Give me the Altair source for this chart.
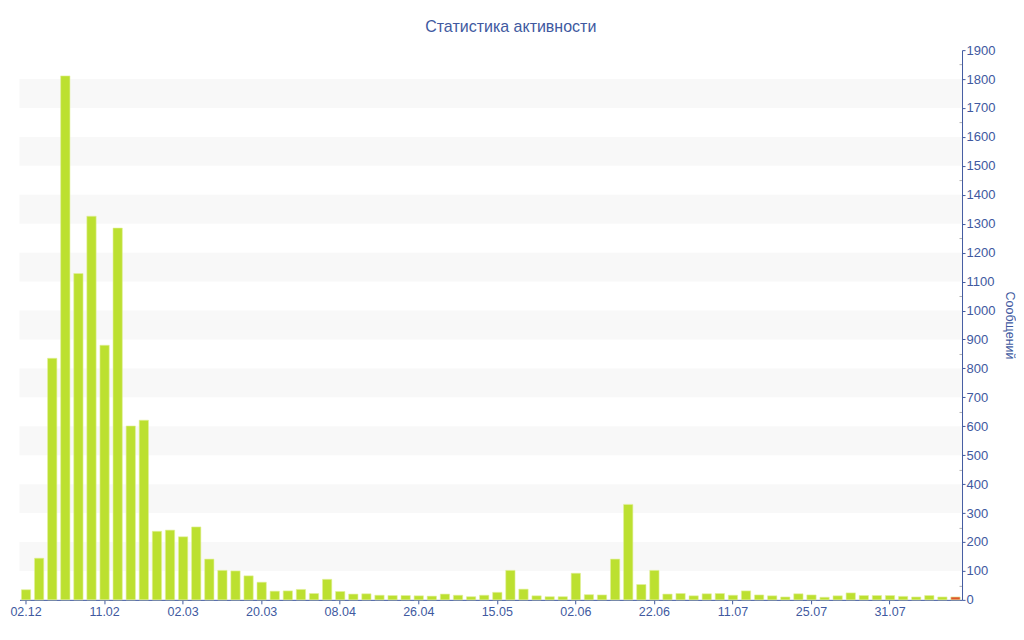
import altair as alt
import pandas as pd

values = [35, 144, 835, 1811, 1128, 1326, 880, 1285, 601, 621,
          237, 241, 218, 252, 141, 102, 100, 83, 61, 30,
          31, 36, 22, 71, 29, 20, 21, 16, 15, 15,
          14, 13, 20, 16, 11, 16, 26, 102, 37, 14,
          11, 11, 92, 18, 17, 141, 330, 53, 102, 20,
          22, 14, 21, 22, 16, 31, 17, 14, 10, 21,
          17, 9, 14, 24, 15, 15, 15, 12, 10, 15,
          10, 10]
tick_labels = ["02.12", "11.02", "02.03", "20.03", "08.04", "26.04",
               "15.05", "02.06", "22.06", "11.07", "25.07", "31.07"]
label_every = 6
y_ticks = list(range(0, 2000, 100))
y_minor = list(range(50, 1900, 100))

BLUE = "#4059A0"
FONT = "Liberation Sans"
W, H = 943, 550

df = pd.DataFrame({"i": list(range(len(values))), "v": values})
last_i = len(values) - 1
bands = pd.DataFrame({"lo": y_ticks[1:-1:2]})
bands["hi"] = bands["lo"] + 100

yscale = alt.Scale(domain=[0, 1900], nice=False)
label_arr = "[" + ",".join("'" + t + "'" for t in tick_labels) + "]"

band_layer = alt.Chart(bands).mark_rect(color="#F8F8F8").encode(
    y=alt.Y("lo:Q", scale=yscale,
            axis=alt.Axis(orient="right", values=y_minor, labels=False,
                          domain=False, grid=False, tickColor="#B0B0B0",
                          tickSize=3, offset=-3, title=None)),
    y2="hi:Q",
)

bars = alt.Chart(df).mark_bar(stroke="#E2F09A", strokeWidth=0.6).encode(
    x=alt.X("i:O",
            scale=alt.Scale(paddingInner=0.29, paddingOuter=0.145),
            axis=alt.Axis(values=list(range(0, len(values), label_every)),
                          labelExpr=label_arr + "[datum.value / " + str(label_every) + "]",
                          labelAngle=0, title=None, domainColor=BLUE,
                          tickColor=BLUE, tickSize=4, labelColor=BLUE,
                          labelFont=FONT, labelFontSize=12.5, labelPadding=2,
                          grid=False)),
    y=alt.Y("v:Q", scale=yscale,
            axis=alt.Axis(orient="right", values=y_ticks, format="d",
                          title="Сообщений",
                          titleColor=BLUE, titleFont=FONT, titleFontSize=12.5,
                          titleFontWeight="normal", titlePadding=8,
                          labelColor=BLUE, labelFont=FONT, labelFontSize=13,
                          labelPadding=1, domainColor=BLUE, tickColor=BLUE,
                          tickSize=3, grid=False)),
    color=alt.condition(alt.datum.i == last_i, alt.value("#E0572A"),
                        alt.value("#BCE030")),
)

chart = alt.layer(band_layer, bars).resolve_axis(y="independent").properties(
    width=W, height=H,
    title=alt.TitleParams("Статистика активности", fontSize=16, font=FONT,
                          color=BLUE, fontWeight="normal", anchor="middle",
                          dx=20, offset=9),
    autosize=alt.AutoSizeParams(type="none"),
    padding={"left": 11.5, "top": 42, "right": 54, "bottom": 30},
).configure_view(stroke=None)

chart.save("out.html", embed_options={"renderer": "svg", "actions": False})
